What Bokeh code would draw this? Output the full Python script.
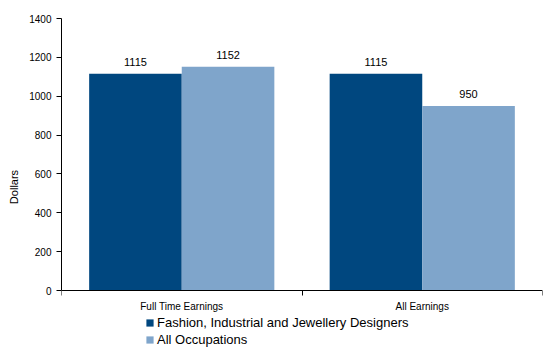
from bokeh.plotting import figure
from bokeh.models import ColumnDataSource, Range1d, FixedTicker, Legend, LegendItem, LabelSet
from bokeh.core.properties import value
from bokeh.embed import file_html
from bokeh.resources import INLINE

categories = ["Full Time Earnings", "All Earnings"]
series_names = ["Fashion, Industrial and Jewellery Designers", "All Occupations"]
designers = [1115, 1115]
all_occ = [1152, 950]
colors = ["#00477F", "#7FA5CB"]

FONT = "Liberation Sans"
YMAX = 1400
YMIN = -(355 - 290) * YMAX / 272.0   # frame extends to the bottom to host legend

p = figure(width=546, height=355, output_backend="svg", toolbar_location=None,
           x_range=Range1d(0, 2), y_range=Range1d(YMIN, YMAX),
           min_border_left=61, min_border_right=4, min_border_top=18, min_border_bottom=0)
p.outline_line_color = None
p.xgrid.visible = False
p.ygrid.visible = False
p.background_fill_color = "white"
p.border_fill_color = "white"

bw = 0.385
centers = [i + 0.5 for i in range(len(categories))]
renderers = []
for k, (vals, col) in enumerate(zip([designers, all_occ], colors)):
    off = -bw / 2 if k == 0 else bw / 2
    src = ColumnDataSource(dict(x=[c + off for c in centers], top=vals,
                                lab=[str(v) for v in vals]))
    r = p.vbar(x="x", top="top", bottom=0, width=bw, source=src, fill_color=col, line_color=None)
    renderers.append(r)
    ls = LabelSet(x="x", y="top", text="lab", source=src, text_align="center",
                  text_baseline="bottom", y_offset=8, text_font=value(FONT),
                  text_font_size="11px", text_color="black")
    p.add_layout(ls)

# x axis: labels at centres, tick marks at category boundaries
p.xaxis.fixed_location = 0
p.xaxis.ticker = FixedTicker(ticks=centers, minor_ticks=[0, 1, 2])
p.xaxis.major_label_overrides = {c: n for c, n in zip(centers, categories)}
p.xaxis.major_tick_line_color = None
p.xaxis.minor_tick_in = 0
p.xaxis.minor_tick_out = 5
p.xaxis.minor_tick_line_color = "black"
p.xaxis.axis_line_color = "black"
p.xaxis.major_label_text_font = FONT
p.xaxis.major_label_text_font_size = "10px"
p.xaxis.major_label_text_color = "black"
p.xaxis.major_label_standoff = 4

p.yaxis.ticker = FixedTicker(ticks=list(range(0, 1401, 200)))
p.yaxis.bounds = (0, YMAX)
p.yaxis.minor_tick_line_color = None
p.yaxis.major_tick_in = 0
p.yaxis.major_tick_out = 5
p.yaxis.axis_line_color = "black"
p.yaxis.major_tick_line_color = "black"
p.yaxis.major_label_text_font = FONT
p.yaxis.major_label_text_font_size = "10px"
p.yaxis.major_label_text_color = "black"
p.yaxis.major_label_standoff = 5
p.yaxis.axis_label = "Dollars"
p.yaxis.axis_label_text_font = FONT
p.yaxis.axis_label_text_font_size = "11px"
p.yaxis.axis_label_text_font_style = "normal"
p.yaxis.axis_label_text_color = "black"
p.yaxis.axis_label_standoff = 6

legend = Legend(items=[LegendItem(label=n, renderers=[r]) for n, r in zip(series_names, renderers)],
                location=(84, 8), orientation="vertical",
                glyph_width=9, glyph_height=9, label_text_font=FONT,
                label_text_font_size="13px", label_text_color="black",
                label_standoff=3, spacing=2,
                padding=2, margin=0, border_line_color=None, background_fill_alpha=0,
                label_height=12)
p.add_layout(legend, "center")

open("out.html", "w").write(file_html(p, INLINE))
